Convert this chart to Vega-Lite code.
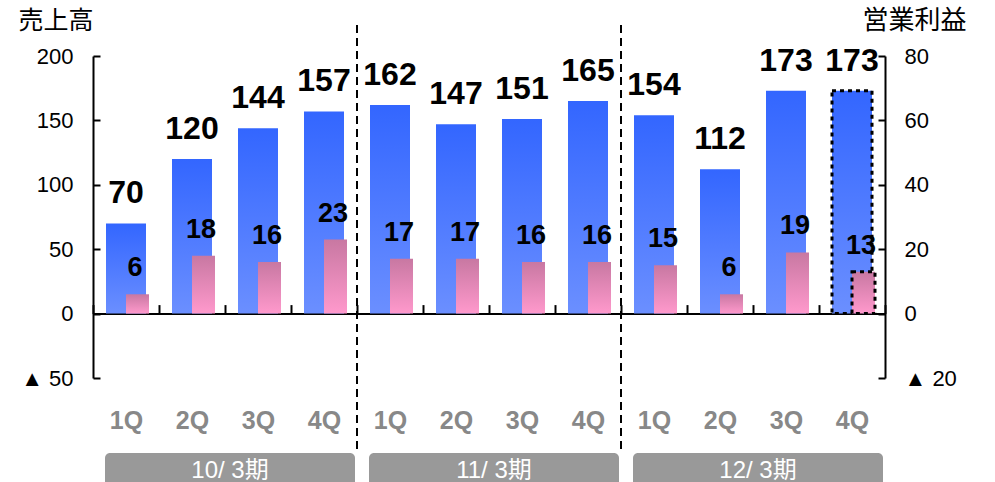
{
  "$schema": "https://vega.github.io/schema/vega-lite/v6.json",
  "width": 792,
  "height": 322,
  "autosize": {"type": "none"},
  "padding": {"left": 93, "top": 56, "right": 110, "bottom": 104},
  "background": "white",
  "config": {"view": {"stroke": null}, "axis": {"grid": false}},
  "datasets": {
    "q": [
      {"key": "10/ 3期 1Q", "period": "10/ 3期", "q": "1Q", "sales": 70, "profit": 6, "forecast": false},
      {"key": "10/ 3期 2Q", "period": "10/ 3期", "q": "2Q", "sales": 120, "profit": 18, "forecast": false},
      {"key": "10/ 3期 3Q", "period": "10/ 3期", "q": "3Q", "sales": 144, "profit": 16, "forecast": false},
      {"key": "10/ 3期 4Q", "period": "10/ 3期", "q": "4Q", "sales": 157, "profit": 23, "forecast": false},
      {"key": "11/ 3期 1Q", "period": "11/ 3期", "q": "1Q", "sales": 162, "profit": 17, "forecast": false},
      {"key": "11/ 3期 2Q", "period": "11/ 3期", "q": "2Q", "sales": 147, "profit": 17, "forecast": false},
      {"key": "11/ 3期 3Q", "period": "11/ 3期", "q": "3Q", "sales": 151, "profit": 16, "forecast": false},
      {"key": "11/ 3期 4Q", "period": "11/ 3期", "q": "4Q", "sales": 165, "profit": 16, "forecast": false},
      {"key": "12/ 3期 1Q", "period": "12/ 3期", "q": "1Q", "sales": 154, "profit": 15, "forecast": false},
      {"key": "12/ 3期 2Q", "period": "12/ 3期", "q": "2Q", "sales": 112, "profit": 6, "forecast": false},
      {"key": "12/ 3期 3Q", "period": "12/ 3期", "q": "3Q", "sales": 173, "profit": 19, "forecast": false},
      {"key": "12/ 3期 4Q", "period": "12/ 3期", "q": "4Q", "sales": 173, "profit": 13, "forecast": true}
    ],
    "groups": [
      {"period": "10/ 3期", "start": "10/ 3期 1Q", "mid": "10/ 3期 2Q", "end": "10/ 3期 4Q"},
      {"period": "11/ 3期", "start": "11/ 3期 1Q", "mid": "11/ 3期 2Q", "end": "11/ 3期 4Q"},
      {"period": "12/ 3期", "start": "12/ 3期 1Q", "mid": "12/ 3期 2Q", "end": "12/ 3期 4Q"}
    ],
    "seps": [
      {"key": "11/ 3期 1Q"},
      {"key": "12/ 3期 1Q"}
    ]
  },
  "layer": [
    {
      "layer": [
        {
          "data": {"name": "q"},
          "mark": {
            "type": "bar",
            "width": 40,
            "fill": {"gradient": "linear", "x1": 0, "y1": 0, "x2": 0, "y2": 1,
              "stops": [{"offset": 0, "color": "#3366ff"}, {"offset": 1, "color": "#6b8fff"}]},
            "strokeWidth": 3,
            "strokeDash": [4, 4]
          },
          "encoding": {
            "x": {
              "field": "key", "type": "nominal", "title": null,
              "scale": {
                "domain": ["10/ 3期 1Q", "10/ 3期 2Q", "10/ 3期 3Q", "10/ 3期 4Q", "11/ 3期 1Q", "11/ 3期 2Q", "11/ 3期 3Q", "11/ 3期 4Q", "12/ 3期 1Q", "12/ 3期 2Q", "12/ 3期 3Q", "12/ 3期 4Q"],
                "paddingInner": 0, "paddingOuter": 0
              },
              "axis": {
                "orient": "bottom",
                "offset": -64.4,
                "domainColor": "black",
                "domainWidth": 2,
                "tickBand": "extent",
                "tickSize": -9,
                "tickWidth": 2,
                "tickColor": "black",
                "labelAngle": 0,
                "labelExpr": "slice(datum.label, -2)",
                "labelFont": "Liberation Sans",
                "labelFontSize": 25,
                "labelFontWeight": "bold",
                "labelColor": "#888888",
                "labelBaseline": "middle",
                "labelPadding": 116
              }
            },
            "y": {
              "field": "sales", "type": "quantitative",
              "scale": {"domain": [-50, 200], "nice": false},
              "axis": {
                "orient": "left",
                "values": [-50, 0, 50, 100, 150, 200],
                "labelExpr": "datum.value < 0 ? '▲ ' + (-datum.value) : datum.label",
                "domainColor": "black",
                "domainWidth": 2,
                "tickColor": "black",
                "tickWidth": 2,
                "tickSize": -7,
                "labelPadding": 27,
                "labelFont": "Liberation Sans, Noto Sans CJK JP",
                "labelFontSize": 22,
                "labelColor": "black",
                "title": "売上高",
                "titleAngle": 0,
                "titleAlign": "left",
                "titleBaseline": "middle",
                "titleX": -75,
                "titleY": -36,
                "titleFont": "Noto Sans CJK JP",
                "titleFontSize": 25,
                "titleFontWeight": "normal",
                "titleColor": "black"
              }
            },
            "stroke": {"condition": {"test": "datum.forecast", "value": "black"}, "value": "transparent"}
          }
        },
        {
          "data": {"name": "q"},
          "mark": {"type": "text", "font": "Liberation Sans", "fontSize": 32, "fontWeight": "bold", "baseline": "bottom", "dy": -13, "color": "black"},
          "encoding": {
            "x": {"field": "key", "type": "nominal", "title": null},
            "y": {"field": "sales", "type": "quantitative"},
            "text": {"field": "sales", "type": "quantitative"}
          }
        },
        {
          "data": {"name": "seps"},
          "mark": {"type": "rule", "color": "black", "strokeWidth": 2, "strokeDash": [8, 5]},
          "encoding": {
            "x": {"field": "key", "type": "nominal", "bandPosition": 0, "title": null},
            "y": {"datum": 224},
            "y2": {"datum": -107.5}
          }
        },
        {
          "data": {"name": "groups"},
          "mark": {"type": "rect", "color": "#999999", "cornerRadius": 5, "xOffset": 12, "x2Offset": -2},
          "encoding": {
            "x": {"field": "start", "type": "nominal", "bandPosition": 0, "title": null},
            "x2": {"field": "end", "bandPosition": 1},
            "y": {"datum": -108.3},
            "y2": {"datum": -140}
          }
        },
        {
          "data": {"name": "groups"},
          "mark": {"type": "text", "color": "white", "font": "Liberation Sans, Noto Sans CJK JP", "fontSize": 24, "baseline": "middle", "dx": 5},
          "encoding": {
            "x": {"field": "mid", "type": "nominal", "bandPosition": 1, "title": null},
            "y": {"datum": -122.5},
            "text": {"field": "period"}
          }
        }
      ]
    },
    {
      "layer": [
        {
          "data": {"name": "q"},
          "mark": {
            "type": "bar",
            "width": 23,
            "xOffset": 11.5,
            "fill": {"gradient": "linear", "x1": 0, "y1": 0, "x2": 0, "y2": 1,
              "stops": [{"offset": 0, "color": "#c878a2"}, {"offset": 1, "color": "#ff99cc"}]},
            "strokeWidth": 3,
            "strokeDash": [4, 4]
          },
          "encoding": {
            "x": {"field": "key", "type": "nominal", "title": null},
            "y": {
              "field": "profit", "type": "quantitative",
              "scale": {"domain": [-20, 80], "nice": false},
              "axis": {
                "orient": "right",
                "values": [-20, 0, 20, 40, 60, 80],
                "labelExpr": "datum.value < 0 ? '▲ ' + (-datum.value) : datum.label",
                "domainColor": "black",
                "domainWidth": 2,
                "tickColor": "black",
                "tickWidth": 2,
                "tickSize": -7,
                "labelPadding": 26,
                "labelFont": "Liberation Sans, Noto Sans CJK JP",
                "labelFontSize": 22,
                "labelColor": "black",
                "title": "営業利益",
                "titleAngle": 0,
                "titleAlign": "left",
                "titleBaseline": "middle",
                "titleX": -23,
                "titleY": -36,
                "titleFont": "Noto Sans CJK JP",
                "titleFontSize": 26,
                "titleFontWeight": "normal",
                "titleColor": "black"
              }
            },
            "stroke": {"condition": {"test": "datum.forecast", "value": "black"}, "value": "transparent"}
          }
        },
        {
          "data": {"name": "q"},
          "mark": {"type": "text", "font": "Liberation Sans", "fontSize": 27, "fontWeight": "bold", "baseline": "bottom", "dy": -12, "dx": 9, "color": "black"},
          "encoding": {
            "x": {"field": "key", "type": "nominal", "title": null},
            "y": {"field": "profit", "type": "quantitative"},
            "text": {"field": "profit", "type": "quantitative"}
          }
        }
      ]
    }
  ],
  "resolve": {"scale": {"y": "independent"}}
}
